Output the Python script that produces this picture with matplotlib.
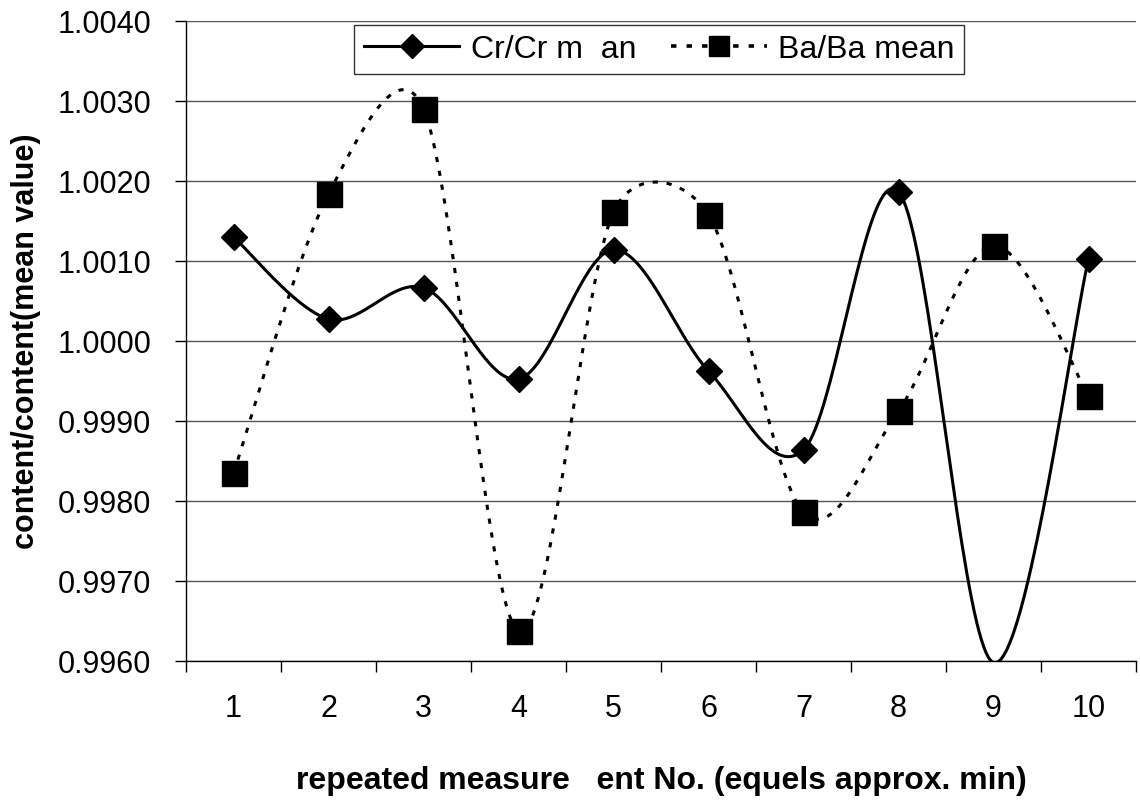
import numpy as np
import matplotlib
matplotlib.use('Agg')
import matplotlib.pyplot as plt

plt.rcParams['font.family'] = ['Liberation Sans', 'DejaVu Sans']

# values
runs = np.arange(1, 11)
cr_ratio = [1.00130, 1.000275, 1.000665, 0.999525, 1.001140,
            0.999625, 0.998640, 1.001865, 0.995980, 1.001025]
ba_ratio = [0.998350, 1.001840, 1.002900, 0.996375, 1.001615,
            1.001575, 0.997860, 0.999125, 1.001190, 0.999315]
tick_labels = [str(i) for i in runs]
y_min, y_max = 0.9960, 1.0040


def excel_smooth(ax, x, y, n=40):
    # Excel "smoothed line": bezier through the points, worked out in pixels,
    # control arms 1/6 of the neighbour chord but never more than half the segment
    pts = ax.transData.transform(np.column_stack([x, y]))
    p = np.vstack([pts[:1], pts, pts[-1:]])
    t = np.linspace(0, 1, n)[:, None]
    out = []
    for i in range(1, len(p) - 2):
        p0, p1, p2, p3 = p[i - 1], p[i], p[i + 1], p[i + 2]
        d12 = np.hypot(*(p2 - p1))
        d02 = np.hypot(*(p2 - p0))
        d13 = np.hypot(*(p3 - p1))
        f = 1 / 6 if d02 / 6 < d12 / 2 else d12 / (2 * d02)
        g = 1 / 6 if d13 / 6 < d12 / 2 else d12 / (2 * d13)
        c1 = p1 + f * (p2 - p0)
        c2 = p2 - g * (p3 - p1)
        seg = (1 - t) ** 3 * p1 + 3 * (1 - t) ** 2 * t * c1 + 3 * (1 - t) * t ** 2 * c2 + t ** 3 * p2
        out.append(seg)
    xy = ax.transData.inverted().transform(np.vstack(out))
    return xy[:, 0], xy[:, 1]


fig = plt.figure(figsize=(11.4, 8.02), dpi=100)
ax = fig.add_axes([0.1632, 0.1758, 0.8333, 0.798])
ax.set_xlim(0.5, 10.5)
ax.set_ylim(y_min, y_max)

cr = np.array(cr_ratio)
ba = np.array(ba_ratio)
ba_dash = (1.7, 2.9)

sx, sy = excel_smooth(ax, runs, cr)
ax.plot(sx, sy, color='black', lw=2.2)
ax.plot(runs, np.where(cr >= y_min, cr, np.nan), 'D', color='black', ms=13.5, zorder=4)

bx, by = excel_smooth(ax, runs, ba)
ax.plot(bx, by, color='black', lw=2.2, dashes=ba_dash)
ax.plot(runs, np.where(ba >= y_min, ba, np.nan), 's', color='black', ms=18, zorder=4)

# legend proxies
h_cr, = ax.plot([], [], '-D', color='black', lw=2.2, ms=12)
h_ba, = ax.plot([], [], color='black', lw=2.6, dashes=(1.5, 2.8), marker='s', ms=14)
leg = ax.legend([h_cr, h_ba], ['Cr/Cr m  an', 'Ba/Ba mean'], ncol=2,
                loc='upper left', bbox_to_anchor=(0.1768, 0.9938),
                fontsize=23, frameon=True, fancybox=False,
                handlelength=3.0, handletextpad=0.35, borderaxespad=0,
                borderpad=0.3, columnspacing=1.1)
leg.get_frame().set_edgecolor('black')
leg.get_frame().set_linewidth(1.0)

ax.set_yticks(np.linspace(y_min, y_max, 9))
ax.set_yticklabels([f'{v:.4f}' for v in np.linspace(y_min, y_max, 9)])
ax.set_xticks(runs)
ax.set_xticklabels(tick_labels)
ax.set_xticks(np.arange(0.5, 11, 1), minor=True)
ax.tick_params(axis='x', which='major', length=0, pad=24, labelsize=22)
ax.tick_params(axis='x', which='minor', length=8, width=1, direction='out')
ax.tick_params(axis='y', which='major', length=8, width=1, pad=17, labelsize=22)

ax.grid(axis='y', color='#555555', lw=1.0)
ax.set_axisbelow(True)
for side in ['top', 'right']:
    ax.spines[side].set_visible(False)
for side in ['left', 'bottom']:
    ax.spines[side].set_linewidth(1.0)

ax.set_ylabel('content/content(mean value)', fontsize=22, fontweight='bold', labelpad=12)
ax.set_xlabel('repeated measure   ent No. (equels approx. min)', fontsize=23,
              fontweight='bold', labelpad=30)

fig.savefig('out.png', dpi=100)
